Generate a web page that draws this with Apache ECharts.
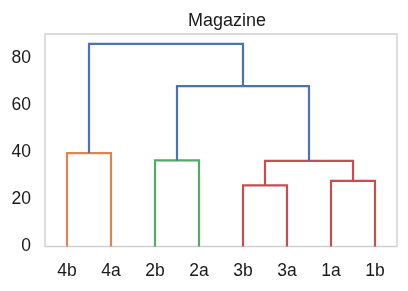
<!DOCTYPE html>
<html>
<head>
<meta charset="utf-8">
<script src="https://cdn.jsdelivr.net/npm/echarts@6/dist/echarts.min.js"></script>
<style>html,body{margin:0;padding:0;background:#fff}#c{width:408px;height:291px}</style>
</head>
<body>
<div id="c"></div>
<script>
// Leaf labels (left to right)
const leaves = ['4b', '4a', '2b', '2a', '3b', '3a', '1a', '1b'];
// Linkage: children (0-7 leaves, 8+ earlier merges)
const mergeLeft  = [4, 6, 8, 2, 0, 11, 12];
const mergeRight = [5, 7, 9, 3, 1, 10, 13];
// Merge heights
const mergeHeights = [26.0, 27.9, 36.4, 36.6, 39.7, 68.2, 86.2];
// Cluster colour group per merge
const mergeGroup = ['red', 'red', 'red', 'green', 'orange', 'blue', 'blue'];
const yTicks = [0, 20, 40, 60, 80];

const palette = { blue: '#4c72b0', orange: '#dd8452', green: '#55a868', red: '#c44e52' };
const nodeX = leaves.map((_, i) => 5 + 10 * i);
const nodeY = leaves.map(() => 0);
const series = [];
mergeHeights.forEach((h, k) => {
  const a = mergeLeft[k], b = mergeRight[k];
  const pts = [[nodeX[a], nodeY[a]], [nodeX[a], h], [nodeX[b], h], [nodeX[b], nodeY[b]]];
  nodeX.push((nodeX[a] + nodeX[b]) / 2);
  nodeY.push(h);
  series.push({
    type: 'line', xAxisIndex: 0, yAxisIndex: 0, data: pts, symbol: 'none', silent: true,
    lineStyle: { color: palette[mergeGroup[k]], width: 2.2, cap: 'butt', join: 'miter' }
  });
});

const font = 'Liberation Sans, Arial, sans-serif';
const chart = echarts.init(document.getElementById('c'), null, { renderer: 'canvas' });
chart.setOption({
  animation: false,
  backgroundColor: '#ffffff',
  title: {
    text: 'Magazine', left: 222, top: 7, textAlign: 'center',
    textStyle: { fontFamily: font, fontSize: 18, fontWeight: 'normal', color: '#1a1a1a' }
  },
  grid: { left: 45, right: 11, top: 34, bottom: 44.5, show: true, borderColor: '#d0d0d0', borderWidth: 1.4, backgroundColor: '#ffffff' },
  xAxis: [
    { type: 'value', min: 0, max: 10 * leaves.length, show: false },
    { type: 'category', data: leaves, boundaryGap: true, position: 'bottom',
      axisLine: { show: false }, axisTick: { show: false }, splitLine: { show: false },
      axisLabel: { margin: 16, fontFamily: font, fontSize: 17.5, color: '#1a1a1a' } }
  ],
  yAxis: {
    type: 'value', min: 0, max: 90.4, interval: 20,
    axisLine: { show: false }, axisTick: { show: false }, splitLine: { show: false },
    axisLabel: { margin: 14, fontFamily: font, fontSize: 17.5, color: '#1a1a1a',
      formatter: v => (yTicks.indexOf(v) >= 0 ? String(v) : '') }
  },
  series: series
});
</script>
</body>
</html>
